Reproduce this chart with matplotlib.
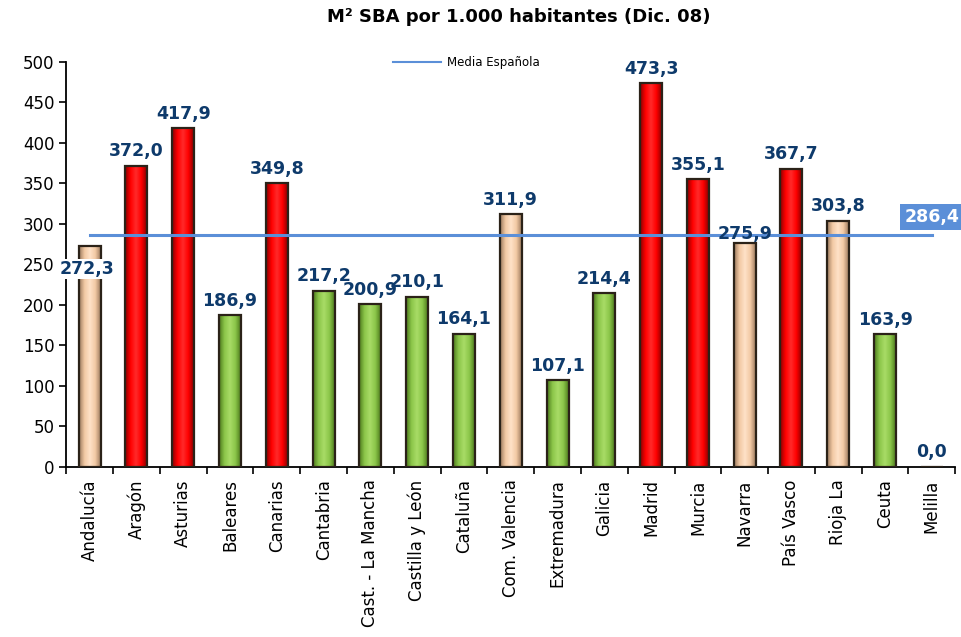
import numpy as np
import matplotlib
matplotlib.use("Agg")
import matplotlib.pyplot as plt
from matplotlib.colors import LinearSegmentedColormap

plt.rcParams.update({"font.family": "DejaVu Sans"})

regions = ["Andalucía", "Aragón", "Asturias", "Baleares", "Canarias", "Cantabria",
           "Cast. - La Mancha", "Castilla y León", "Cataluña", "Com. Valencia",
           "Extremadura", "Galicia", "Madrid", "Murcia", "Navarra", "País Vasco",
           "Rioja La", "Ceuta", "Melilla"]
values = [272.3, 372.0, 417.9, 186.9, 349.8, 217.2, 200.9, 210.1, 164.1, 311.9,
          107.1, 214.4, 473.3, 355.1, 275.9, 367.7, 303.8, 163.9, 0.0]
groups = ["mid", "high", "high", "low", "high", "low", "low", "low", "low", "mid",
          "low", "low", "high", "high", "mid", "high", "mid", "low", "low"]
media = 286.4

shades = {
    "high": ["#8a0000", "#ff0000", "#ff2a2a", "#ff0000", "#8a0000"],
    "mid": ["#9c7a5e", "#f2c9a4", "#ffe2c8", "#f2c9a4", "#9c7a5e"],
    "low": ["#4d7a1c", "#8cc64a", "#a8dc66", "#8cc64a", "#4d7a1c"],
}

fig = plt.figure(figsize=(9.61, 6.37), dpi=100)
ax = fig.add_axes([0.069, 0.267, 0.925, 0.636])

x = np.arange(len(regions))
width = 0.47
bars = ax.bar(x, values, width=width, color="none", edgecolor="#2b2218",
              linewidth=1.6, zorder=3)

grad = np.linspace(0, 1, 64).reshape(1, -1)
for b, g, v in zip(bars, groups, values):
    if v <= 0:
        continue
    cmap = LinearSegmentedColormap.from_list("c", shades[g])
    im = ax.imshow(grad, cmap=cmap, aspect="auto", zorder=2,
                   extent=[b.get_x(), b.get_x() + b.get_width(), 0, v])
    im.set_clip_path(b)

ax.plot([x[0], x[-1]], [media, media], color="#5b8fd8", linewidth=2.2,
        zorder=4, label="Media Española")

navy = "#0e3a6b"
for xi, v in zip(x, values):
    txt = f"{v:.1f}".replace(".", ",")
    if xi == 0:
        ax.text(xi - 0.05, v - 28, txt, ha="center", va="center",
                fontsize=12.5, fontweight="bold", color=navy, zorder=6,
                bbox=dict(facecolor="white", edgecolor="none", pad=1))
    elif regions[xi] == "Navarra":
        ax.text(xi, v + 11, txt, ha="center", va="center",
                fontsize=12.5, fontweight="bold", color=navy, zorder=6)
    else:
        ax.text(xi, v + 18, txt, ha="center", va="center",
                fontsize=12.5, fontweight="bold", color=navy, zorder=6)

ax.text(x[-1], media + 22, f"{media:.1f}".replace(".", ","), ha="center", va="center",
        fontsize=12.5, fontweight="bold", color="white", zorder=6,
        bbox=dict(facecolor="#5b8fd8", edgecolor="none", pad=3))

ax.set_xlim(-0.5, len(regions) - 0.5)
ax.set_ylim(0, 500)
ax.set_yticks(np.arange(0, 501, 50))
ax.set_xticks(x)
ax.set_xticklabels(regions, rotation=90, fontsize=12)
ax.tick_params(axis="y", labelsize=12, direction="out", length=5, width=1.2)
ax.tick_params(axis="x", direction="out", length=5, width=1.2, pad=9)
ax.set_xticks(np.arange(-0.5, len(regions), 1), minor=True)
ax.tick_params(axis="x", which="minor", length=5, width=1.2)
ax.tick_params(axis="x", which="major", length=0)
for s in ["top", "right"]:
    ax.spines[s].set_visible(False)
ax.spines["left"].set_linewidth(1.3)
ax.spines["bottom"].set_linewidth(1.3)

ax.legend(loc="upper center", bbox_to_anchor=(0.45, 1.04), frameon=False,
          fontsize=8.5, handlelength=4, handletextpad=0.5)
for ln in ax.get_legend().get_lines():
    ln.set_linewidth(1.5)
fig.suptitle("M² SBA por 1.000 habitantes (Dic. 08)", x=0.54, y=0.987,
             fontsize=13, fontweight="bold")

fig.savefig("out.png", dpi=100)
